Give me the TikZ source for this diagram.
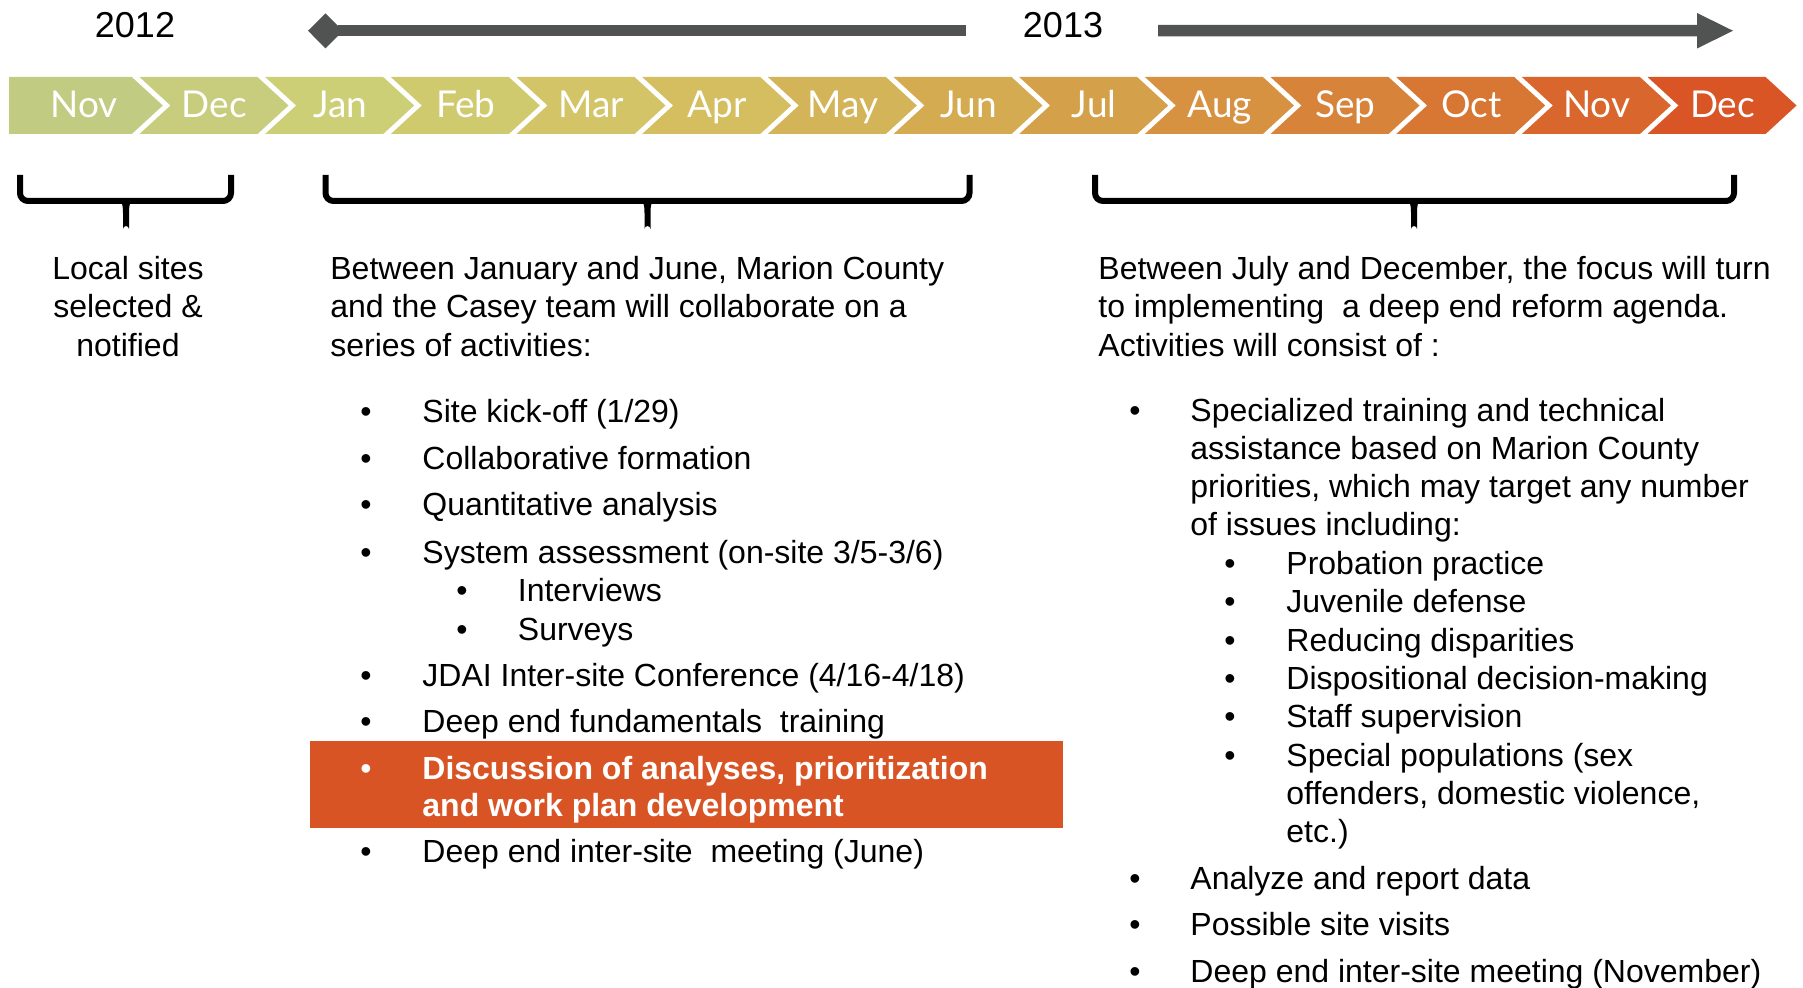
\documentclass[tikz,border=0pt]{standalone}
\usepackage{fontspec}
\setmainfont{Liberation Sans}
\newfontfamily\monthfont{Lato}
% chevron colours, green through orange to red
\definecolor{cm0}{RGB}{194,203,130}
\definecolor{cm1}{RGB}{199,205,124}
\definecolor{cm2}{RGB}{204,207,118}
\definecolor{cm3}{RGB}{208,202,110}
\definecolor{cm4}{RGB}{211,197,103}
\definecolor{cm5}{RGB}{212,190,96}
\definecolor{cm6}{RGB}{212,180,88}
\definecolor{cm7}{RGB}{213,171,82}
\definecolor{cm8}{RGB}{213,160,74}
\definecolor{cm9}{RGB}{214,146,65}
\definecolor{cm10}{RGB}{215,132,58}
\definecolor{cm11}{RGB}{216,118,51}
\definecolor{cm12}{RGB}{217,102,45}
\definecolor{cm13}{RGB}{218,85,37}
\definecolor{arrowgrey}{RGB}{81,83,82}
\definecolor{hlorange}{RGB}{217,84,36}
\begin{document}
\begin{tikzpicture}[x=0.5pt,y=-0.5pt,
  body/.style={anchor=base west,inner sep=0pt,font=\fontsize{16}{19.25}\selectfont},
  centred/.style={anchor=base,inner sep=0pt,font=\fontsize{16}{19.25}\selectfont},
  bul/.style={anchor=base,inner sep=0pt,font=\fontsize{16}{19.25}\selectfont},
  hltext/.style={body,text=white,font=\fontsize{16}{19.25}\selectfont\bfseries},
  year/.style={anchor=base,inner sep=0pt,font=\fontsize{18}{21}\selectfont},
  month/.style={anchor=base,inner sep=0pt,text=white,font=\monthfont\fontsize{18.5}{21}\selectfont},
  brk/.style={line width=3pt,black,rounded corners=4pt}
]
\useasboundingbox (0,0) rectangle (1803,988);

% ---- year labels and timeline arrows ----
\node[year] (y2012) at (135,38) {2012};
\node[year] (y2013) at (1063,38) {2013};
\fill[arrowgrey] (338,25) rectangle (966,36.5);
\fill[arrowgrey] (308,30.75) -- (325.5,13.3) -- (343,30.75) -- (325.5,48.3) -- cycle;
\fill[arrowgrey] (1158,25) -- (1697,25) -- (1697,13) -- (1733,30.75)
  -- (1697,48.5) -- (1697,36.5) -- (1158,36.5) -- cycle;

% ---- month chevrons ----
\fill[cm0] (9,77) -- (131.8,77) -- (162.8,105.5) -- (131.8,134) -- (9,134) -- cycle;
\node[month] (m0) at (84,117.3) {Nov};
\foreach \i/\m in {1/Dec,2/Jan,3/Feb,4/Mar,5/Apr,6/May,7/Jun,8/Jul,9/Aug,10/Sep,11/Oct,12/Nov,13/Dec}{
  \pgfmathsetmacro\L{139.5+125.67*(\i-1)}
  \fill[cm\i] (\L,77) -- ({\L+118},77) -- ({\L+149},105.5) -- ({\L+118},134)
    -- (\L,134) -- ({\L+31},105.5) -- cycle;
  \node[month] (m\i) at ({\L+75},117.3) {\m};
}

% ---- brackets under the month ranges (brace-like middle tick) ----
\foreach \a/\m/\b in {20/126/231, 325.5/647.5/969.5, 1095/1414/1734}{
  \draw[brk] (\a,175) -- (\a,201) -- (\b,201) -- (\b,175);
  \fill (\m-7,201) .. controls (\m-3.5,202) and (\m-3,206) .. (\m-3,213)
    -- (\m-3,229) arc[start angle=180,end angle=360,radius=3]
    -- (\m+3,213) .. controls (\m+3,206) and (\m+3.5,202) .. (\m+7,201) -- cycle;
}

% ---- left column ----
\node[centred] (l1) at (128,280) {Local sites};
\node[centred] (l2) at (128,318) {selected \&};
\node[centred] (l3) at (128,357) {notified};

% ---- middle column ----
\node[body] (c1) at (330,280) {Between January and June, Marion County};
\node[body] (c2) at (330,318) {and the Casey team will collaborate on a};
\node[body] (c3) at (330,357) {series of activities:};

\node[bul] (cb1) at (366,423) {\textbullet};
\node[body] (ci1) at (422,423) {Site kick-off (1/29)};
\node[bul] (cb2) at (366,470) {\textbullet};
\node[body] (ci2) at (422,470) {Collaborative formation};
\node[bul] (cb3) at (366,516) {\textbullet};
\node[body] (ci3) at (422,516) {Quantitative analysis};
\node[bul] (cb4) at (366,563) {\textbullet};
\node[body] (ci4) at (422,563) {System assessment (on-site 3/5-3/6)};
\node[bul] (cs1) at (462,601) {\textbullet};
\node[body] (cj1) at (517.5,601) {Interviews};
\node[bul] (cs2) at (462,640) {\textbullet};
\node[body] (cj2) at (517.5,640) {Surveys};
\node[bul] (cb5) at (366,686) {\textbullet};
\node[body] (ci5) at (422,686) {JDAI Inter-site Conference (4/16-4/18)};
\node[bul] (cb6) at (366,732) {\textbullet};
\node[body] (ci6) at (422,732) {Deep end fundamentals\ \ training};

\fill[hlorange] (310,741) rectangle (1063,828);
\node[bul,text=white] (cb7) at (366,779) {\textbullet};
\node[hltext] (ci7a) at (422,779) {Discussion of analyses, prioritization};
\node[hltext] (ci7b) at (422,816) {and work plan development};

\node[bul] (cb8) at (366,862) {\textbullet};
\node[body] (ci8) at (422,862) {Deep end inter-site\ \ meeting (June)};

% ---- right column ----
\node[body] (r1) at (1098,280) {Between July and December, the focus will turn};
\node[body] (r2) at (1098,318) {to implementing\ \ a deep end reform agenda.};
\node[body] (r3) at (1098,357) {Activities will consist of :};

\node[bul] (rb1) at (1135,421.5) {\textbullet};
\node[body] (ri1a) at (1190,421.5) {Specialized training and technical};
\node[body] (ri1b) at (1190,459.5) {assistance based on Marion County};
\node[body] (ri1c) at (1190,497.5) {priorities, which may target any number};
\node[body] (ri1d) at (1190,535.5) {of issues including:};

\node[bul] (rs1) at (1230,574.5) {\textbullet};
\node[body] (rj1) at (1286,574.5) {Probation practice};
\node[bul] (rs2) at (1230,612.5) {\textbullet};
\node[body] (rj2) at (1286,612.5) {Juvenile defense};
\node[bul] (rs3) at (1230,651) {\textbullet};
\node[body] (rj3) at (1286,651) {Reducing disparities};
\node[bul] (rs4) at (1230,689.5) {\textbullet};
\node[body] (rj4) at (1286,689.5) {Dispositional decision-making};
\node[bul] (rs5) at (1230,727.5) {\textbullet};
\node[body] (rj5) at (1286,727.5) {Staff supervision};
\node[bul] (rs6) at (1230,766.5) {\textbullet};
\node[body] (rj6a) at (1286,766.5) {Special populations (sex};
\node[body] (rj6b) at (1286,804.5) {offenders, domestic violence,};
\node[body] (rj6c) at (1286,842.5) {etc.)};

\node[bul] (rb2) at (1135,889.5) {\textbullet};
\node[body] (ri2) at (1190,889.5) {Analyze and report data};
\node[bul] (rb3) at (1135,935.5) {\textbullet};
\node[body] (ri3) at (1190,935.5) {Possible site visits};
\node[bul] (rb4) at (1135,982.5) {\textbullet};
\node[body] (ri4) at (1190,982.5) {Deep end inter-site meeting (November)};
\end{tikzpicture}
\end{document}
